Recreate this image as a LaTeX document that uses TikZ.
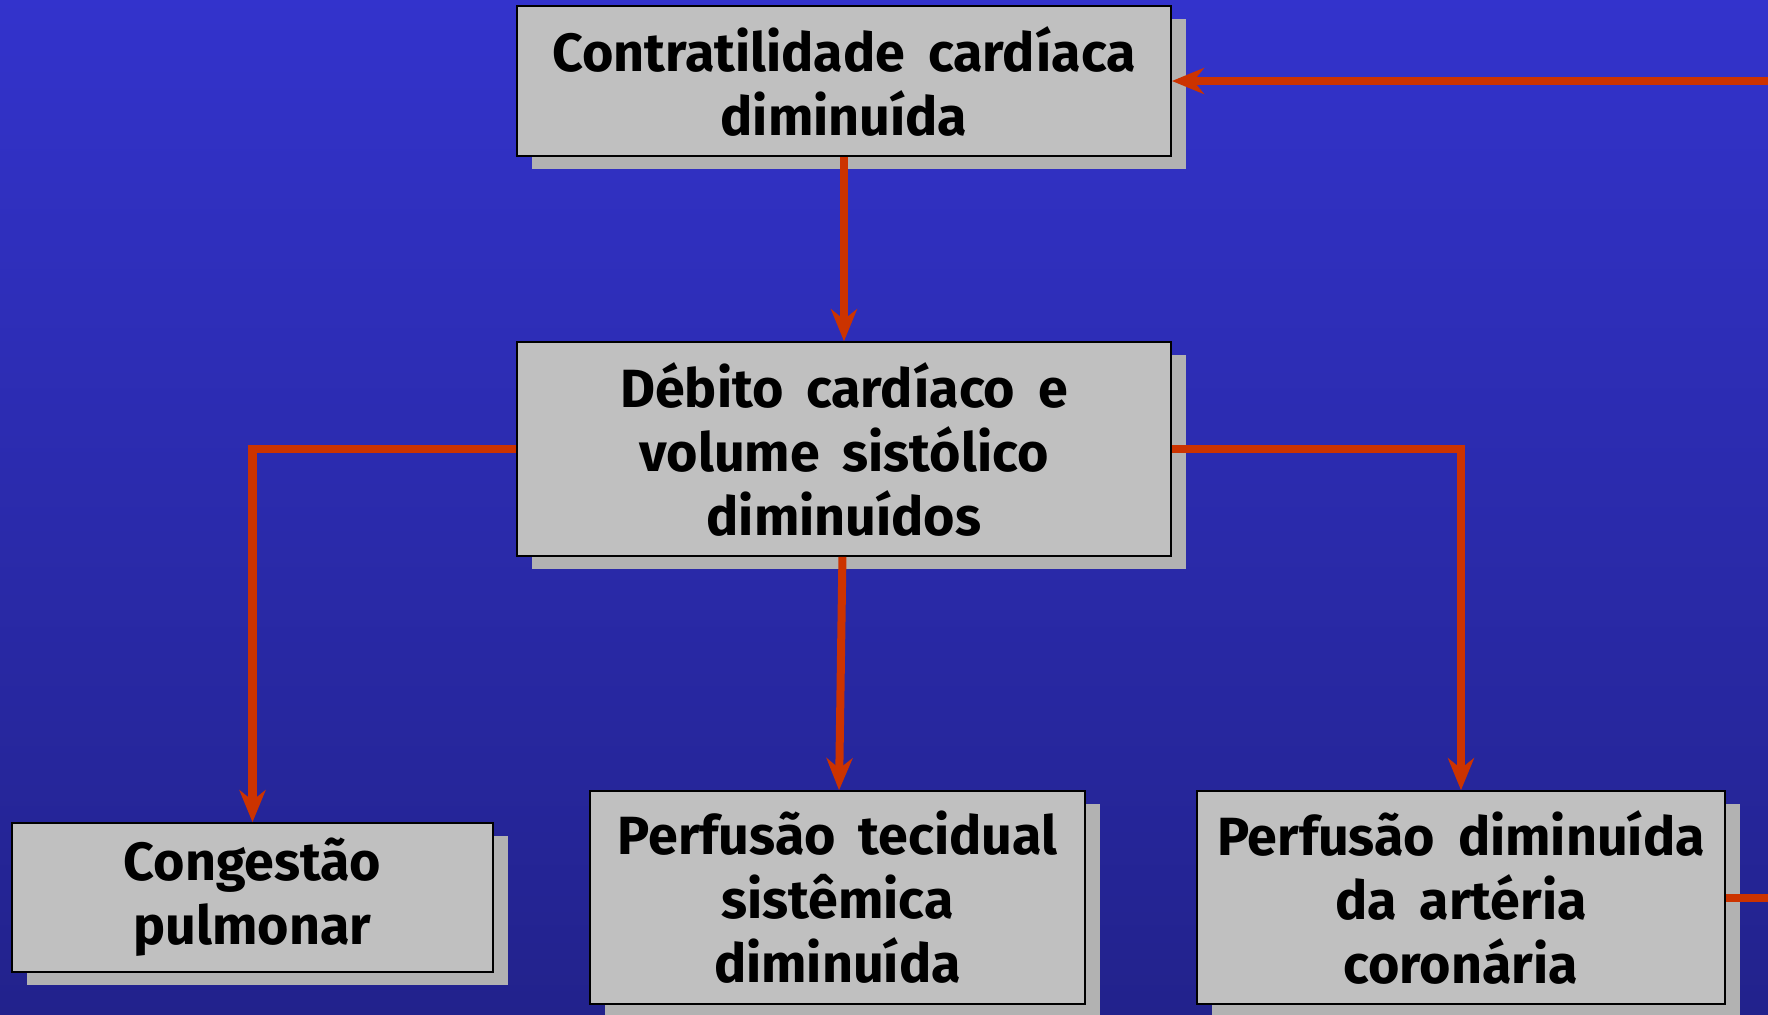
\documentclass[tikz,border=0pt]{standalone}
\usepackage{fontspec}
\setmainfont{Fira Sans}
\usepackage{tikz}
\usetikzlibrary{arrows.meta,shadows}
\definecolor{bgtop}{RGB}{51,51,204}
\definecolor{bgbot}{RGB}{34,34,140}
\definecolor{boxgray}{RGB}{192,192,192}
\definecolor{shadegray}{RGB}{178,178,178}
\definecolor{arrowred}{RGB}{204,51,0}
\newcommand{\boxfont}{\fontsize{15.3}{18.2}\selectfont\bfseries\spaceskip=6.5pt\relax}

\begin{document}
\begin{tikzpicture}[x=0.01cm,y=-0.01cm,>={Stealth[length=3.2mm,width=2.6mm]}]
	\tikzstyle{box}=[draw=black,line width=0.15mm,fill=boxgray,align=center,inner sep=0pt,
	font=\boxfont,
	general shadow={fill=shadegray,shadow xshift=0.15cm,shadow yshift=-0.13cm}]
	\tikzstyle{link}=[draw=arrowred,line width=0.8mm]
	
	\useasboundingbox (0,0) rectangle (1768,1014);
	\clip (0,0) rectangle (1768,1014);
	\fill [top color=bgtop,bottom color=bgbot] (0,0) rectangle (1768,1014);
	
	\node[box,minimum width=6.54cm,minimum height=1.50cm] (CC) at (844,81) {Contratilidade cardíaca\\diminuída};
	\node[box,minimum width=6.54cm,minimum height=2.14cm] (DC) at (844,449) {Débito cardíaco e\\volume sistólico\\diminuídos};
	
	\node[box,minimum width=4.81cm,minimum height=1.49cm] (CP) at (252.5,897.5) {Congestão\\pulmonar};
	\node[box,minimum width=4.95cm,minimum height=2.13cm] (PT) at (837.5,897.5) {Perfusão tecidual\\sistêmica\\diminuída};
	\node[box,minimum width=5.28cm,minimum height=2.13cm] (PC) at (1461,897.5) {Perfusão diminuída\\da artéria\\coronária};
	
	\coordinate (R) at (1800,0);
	
	\path [link,->] (CC) edge (DC)
	(DC) edge (PT);
	\draw [link,->] (DC.west) -| (CP.north);
	\draw [link,->] (DC.east) -| (PC.north);
	\draw [link,->] (PC.east) -- (PC.east -| R) -- (CC.east -| R) -- (CC.east);
\end{tikzpicture}
\end{document}
